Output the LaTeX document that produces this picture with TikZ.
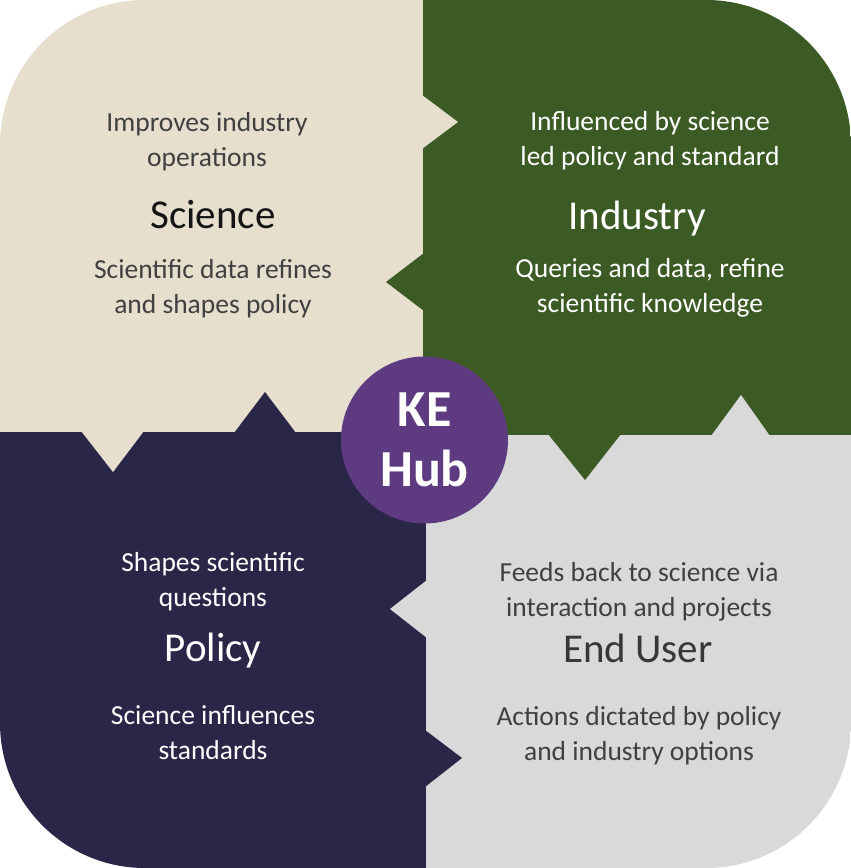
\documentclass[tikz,border=0pt]{standalone}
\usepackage{fontspec}
\setmainfont{Carlito}

\definecolor{scibeige}{HTML}{E6DFCE}
\definecolor{indgreen}{HTML}{3B5A24}
\definecolor{polnavy}{HTML}{2A2648}
\definecolor{usergrey}{HTML}{D9D9D9}
\definecolor{hubpurple}{HTML}{5E3A80}
\definecolor{bodygrey}{HTML}{404040}
\definecolor{titleblack}{HTML}{141414}

\tikzset{
    note/.style={align=center, inner sep=0pt, font=\fontsize{27.5}{35}\selectfont},
    title/.style={anchor=base, inner sep=0pt, font=\fontsize{41}{45}\selectfont},
    hub/.style={circle, fill=hubpurple, minimum size=167pt, inner sep=0pt, text=white, align=center, font=\fontsize{52}{60}\selectfont\bfseries}
}

\begin{document}
\begin{tikzpicture}[x=1pt,y=1pt]
    % Fix the page size
    \useasboundingbox (0,0) rectangle (851,868);

    \begin{scope}
    \clip[rounded corners=145pt] (0,0) rectangle (851,868);
    % Draw the quadrants
    \fill[scibeige] (0,436) rectangle (423,868);
    \fill[indgreen] (423,433) rectangle (851,868);
    \fill[polnavy] (0,0) rectangle (426,436);
    \fill[usergrey] (426,0) rectangle (851,433);

    % Draw the tabs
    \fill[scibeige] (422,773) -- (458,746) -- (422,719) -- cycle;
    \fill[indgreen] (424,615) -- (386,586) -- (424,557) -- cycle;
    \fill[polnavy] (234,435) -- (265,476) -- (296,435) -- cycle;
    \fill[scibeige] (81,437) -- (113,396) -- (144,437) -- cycle;
    \fill[indgreen] (548,434) -- (585,388) -- (621,434) -- cycle;
    \fill[usergrey] (711,432) -- (741,473) -- (770,432) -- cycle;
    \fill[usergrey] (427,288) -- (390,259) -- (427,230) -- cycle;
    \fill[polnavy] (425,138) -- (462,110) -- (425,81) -- cycle;
    \end{scope}

    % Draw the hub
    \node[hub] (hub) at (424.5,428) {KE\\Hub};

    % Science
    \node[note, text=bodygrey] (sciabove) at (207,726) {Improves industry\\operations};
    \node[title, text=titleblack] (scititle) at (213,639) {Science};
    \node[note, text=bodygrey] (scibelow) at (213,579) {Scientific data refines\\and shapes policy};

    % Industry
    \node[note, text=white] (indabove) at (650,727) {Influenced by science\\led policy and standard};
    \node[title, text=white] (indtitle) at (637,638) {Industry};
    \node[note, text=white] (indbelow) at (650,580) {Queries and data, refine\\scientific knowledge};

    % Policy
    \node[note, text=white] (polabove) at (213,286) {Shapes scientific\\questions};
    \node[title, text=white] (poltitle) at (213,206) {Policy};
    \node[note, text=white] (polbelow) at (213,135.5) {Science influences\\standards};

    % End user
    \node[note, text=bodygrey] (userabove) at (639,276) {Feeds back to science via\\interaction and projects};
    \node[title, text=titleblack!85] (usertitle) at (638,205) {End User};
    \node[note, text=bodygrey] (userbelow) at (639,132) {Actions dictated by policy\\and industry options};
\end{tikzpicture}
\end{document}
